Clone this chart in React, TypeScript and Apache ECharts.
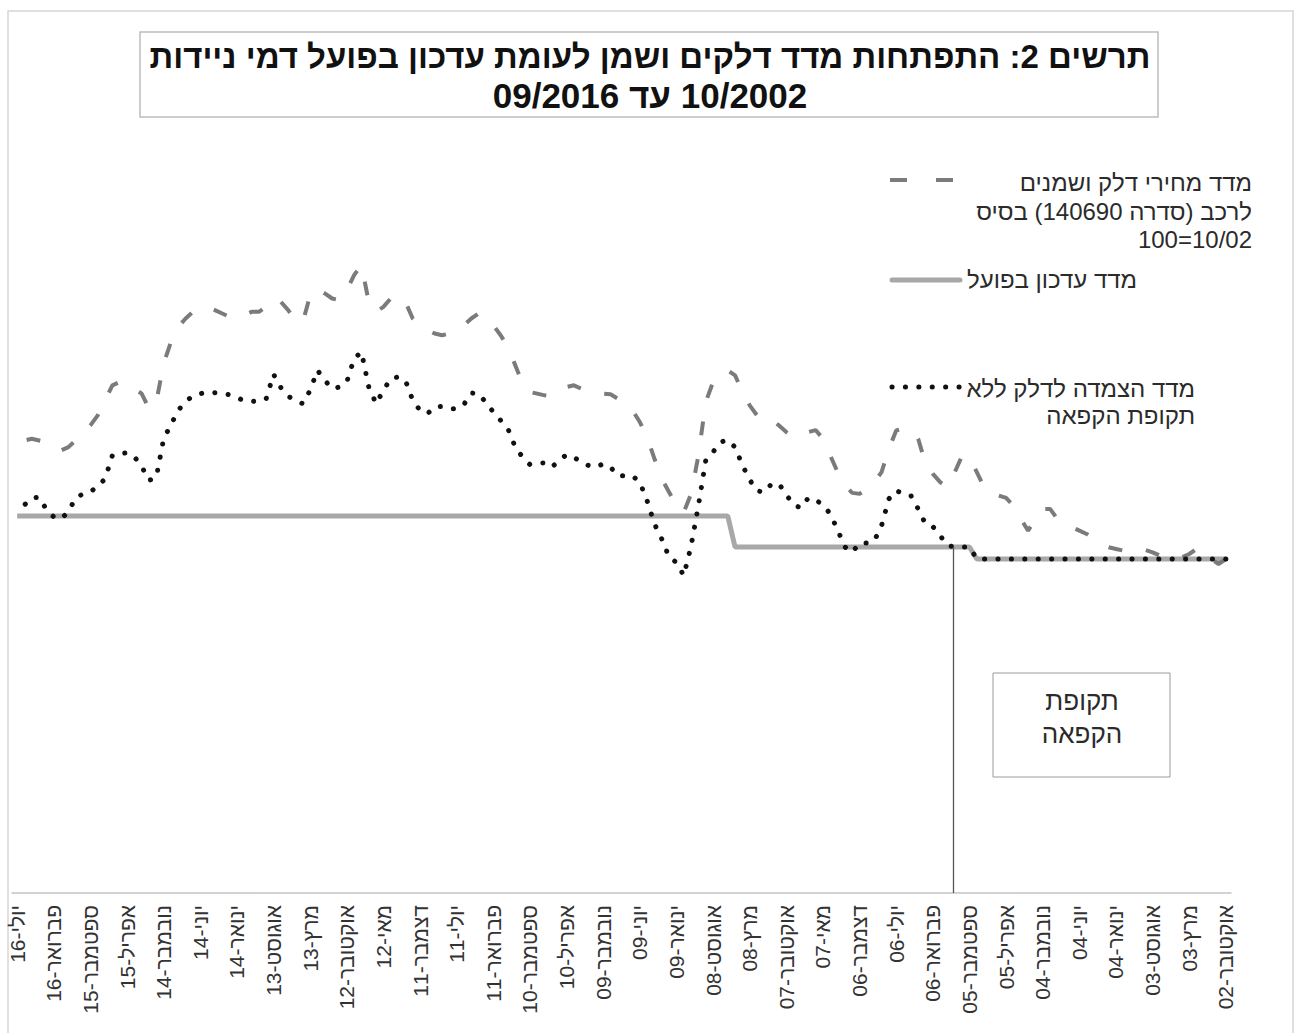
import React, { useEffect, useRef } from "react";
import * as echarts from "echarts";

// Month index 0 = 10/2002 ... 165 = 07/2016 (axis drawn right-to-left)
const tickIndex = [0, 5, 10, 15, 20, 25, 30, 35, 40, 45, 50, 55, 60, 65, 70, 75, 80, 85, 90, 95, 100, 105, 110, 115, 120, 125, 130, 135, 140, 145, 150, 155, 160, 165];
const tickLabels = [
  "אוקטובר-02", "מרץ-03", "אוגוסט-03", "ינואר-04", "יוני-04", "נובמבר-04", "אפריל-05", "ספטמבר-05",
  "פברואר-06", "יולי-06", "דצמבר-06", "מאי-07", "אוקטובר-07", "מרץ-08", "אוגוסט-08", "ינואר-09",
  "יוני-09", "נובמבר-09", "אפריל-10", "ספטמבר-10", "פברואר-11", "יולי-11", "דצמבר-11", "מאי-12",
  "אוקטובר-12", "מרץ-13", "אוגוסט-13", "ינואר-14", "יוני-14", "נובמבר-14", "אפריל-15", "ספטמבר-15",
  "פברואר-16", "יולי-16",
];

// מדד מחירי דלק ושמנים לרכב
const fuelIndex = [
  100, 98.5, 100, 102, 103, 101.5, 100.5, 100.3, 100.5, 101,
  102, 102.7, 102.3, 102, 102.5, 103, 103.5, 104.5, 106, 107.5,
  108.5, 109.5, 110.5, 112, 115, 115, 112, 108.5, 112, 116,
  118.3, 119, 119.5, 121.5, 126, 130.5, 131, 126, 121.5, 123,
  125.5, 128.5, 136, 138.9, 139, 138.5, 133, 126, 123, 121,
  119.5, 119.8, 122, 126, 131, 136, 138.6, 138, 137, 136.5,
  138, 140, 141.5, 141, 143, 146, 150, 155, 156.5, 155,
  153, 147, 131, 119.5, 114, 116, 120, 124, 130, 136.5,
  141, 144.5, 146, 148, 149.3, 149.5, 150, 150.5, 151, 152,
  151.5, 150, 148.8, 149, 149.5, 150, 152.5, 158, 163.5, 167,
  170, 172.5, 173.5, 172, 170, 168.5, 167.5, 167, 167.5, 168.5,
  169.5, 172, 177, 179, 178, 175.5, 174, 177, 188, 185,
  180.5, 177.5, 178, 179.5, 181, 179, 171, 171.5, 174.5, 177,
  178, 175.5, 174, 174, 173, 172.3, 172.5, 173.5, 174.5, 175.4,
  175, 174, 172, 169.5, 165, 158.5, 147, 145, 149.5, 151,
  152.5, 153, 152, 147.5, 143, 140, 137.5, 135.5, 133.5, 132.5,
  133.5, 135, 135.5, 136, 135.5, 132.5,
];

// מדד עדכון בפועל
const actualUpdate = [
  100, 100, 100, 100, 100, 100, 100, 100, 100, 100,
  100, 100, 100, 100, 100, 100, 100, 100, 100, 100,
  100, 100, 100, 100, 100, 100, 100, 100, 100, 100,
  100, 100, 100, 100, 100, 103.6, 103.6, 103.6, 103.6, 103.6,
  103.6, 103.6, 103.6, 103.6, 103.6, 103.6, 103.6, 103.6, 103.6, 103.6,
  103.6, 103.6, 103.6, 103.6, 103.6, 103.6, 103.6, 103.6, 103.6, 103.6,
  103.6, 103.6, 103.6, 103.6, 103.6, 103.6, 103.6, 103.6, 112.9, 112.9,
  112.9, 112.9, 112.9, 112.9, 112.9, 112.9, 112.9, 112.9, 112.9, 112.9,
  112.9, 112.9, 112.9, 112.9, 112.9, 112.9, 112.9, 112.9, 112.9, 112.9,
  112.9, 112.9, 112.9, 112.9, 112.9, 112.9, 112.9, 112.9, 112.9, 112.9,
  112.9, 112.9, 112.9, 112.9, 112.9, 112.9, 112.9, 112.9, 112.9, 112.9,
  112.9, 112.9, 112.9, 112.9, 112.9, 112.9, 112.9, 112.9, 112.9, 112.9,
  112.9, 112.9, 112.9, 112.9, 112.9, 112.9, 112.9, 112.9, 112.9, 112.9,
  112.9, 112.9, 112.9, 112.9, 112.9, 112.9, 112.9, 112.9, 112.9, 112.9,
  112.9, 112.9, 112.9, 112.9, 112.9, 112.9, 112.9, 112.9, 112.9, 112.9,
  112.9, 112.9, 112.9, 112.9, 112.9, 112.9, 112.9, 112.9, 112.9, 112.9,
  112.9, 112.9, 112.9, 112.9, 112.9, 112.9,
];

// מדד הצמדה לדלק ללא תקופת הקפאה
const linkedNoFreeze = [
  100, 100, 100, 100, 100, 100, 100, 100, 100, 100,
  100, 100, 100, 100, 100, 100, 100, 100, 100, 100,
  100, 100, 100, 100, 100, 100, 100, 100, 100, 100,
  100, 100, 100, 100, 100, 103.6, 103.6, 103.6, 104, 107,
  109.7, 110.5, 115, 119, 119.5, 120.5, 118, 110, 105.4, 104.8,
  104.8, 102, 103.6, 108.7, 113.5, 116.2, 117.7, 118.3, 115.3, 116.2,
  119.2, 122.5, 122.5, 120, 120.4, 123.7, 128.1, 133.5, 135.6, 135,
  132, 129.5, 116, 103.9, 95, 99, 100.5, 106, 110.5, 117.4,
  123, 124.9, 124.9, 124.9, 127.5, 128.5, 127.5, 128, 129, 130.5,
  131.2, 129.6, 127.5, 128.8, 128.7, 128.3, 130.5, 133.5, 139, 141.5,
  144, 146.8, 149.5, 149.7, 146.3, 145, 145, 145.7, 145.5, 143.5,
  144.5, 147.5, 153.5, 154.5, 154, 150.5, 146.5, 151.5, 162, 160,
  153, 151.5, 151, 153.5, 156.5, 150.5, 146.5, 147.5, 148.7, 151.3,
  155.3, 148, 147.2, 147.2, 147.4, 148.3, 149.2, 149.5, 149.8, 150,
  149.5, 148.8, 147.2, 144.5, 140.2, 136, 124.5, 123.5, 127.7, 130.6,
  131.8, 131.5, 131, 124, 121.8, 120.1, 119.5, 118.3, 114.2, 112,
  112.6, 114.8, 118.5, 118.3, 116.2, 114.1,
];

const freezeEndIndex = 37.25;
const freezeTopValue = 103.6;

const FONT = "'Liberation Sans', Arial, 'DejaVu Sans', sans-serif";
const rtl = (s: string) => "\u202B" + s + "\u202C";

export default function App() {
  const ref = useRef<HTMLDivElement>(null);
  useEffect(() => {
    if (!ref.current) return;
    const chart = echarts.init(ref.current, null, { renderer: "svg" });
    const pairs = (arr: number[]) => arr.map((v, i) => [i, v]);
    const txt = (text: string, x: number, y: number, size: number, align: string, bold = false, fill = "#2b2b2b") => ({
      type: "text",
      x,
      y,
      silent: true,
      style: {
        text,
        fontFamily: FONT,
        fontSize: size,
        fontWeight: bold ? "bold" : "normal",
        fill,
        align,
        verticalAlign: "middle",
      },
    });
    chart.setOption({
      animation: false,
      backgroundColor: "#ffffff",
      grid: { left: 12, right: 69, top: 58, bottom: 140 },
      xAxis: {
        type: "value",
        inverse: true,
        min: -0.7,
        max: 165.7,
        splitLine: { show: false },
        axisTick: { show: false },
        axisLine: { show: true, onZero: false, lineStyle: { color: "#c4c4c4", width: 1.5 } },
        axisLabel: {
          customValues: tickIndex,
          rotate: 90,
          margin: 12,
          fontSize: 21,
          fontFamily: FONT,
          color: "#333",
          formatter: (v: number) => {
            const k = tickIndex.indexOf(Math.round(v));
            return k >= 0 ? rtl(tickLabels[k]) : "";
          },
        },
      },
      yAxis: { type: "value", min: 0, max: 250, show: false, splitLine: { show: false } },
      series: [
        {
          name: "מדד עדכון בפועל",
          type: "line",
          data: pairs(actualUpdate),
          showSymbol: false,
          lineStyle: { color: "#a8a8a8", width: 5 },
          z: 2,
          markLine: {
            silent: true,
            symbol: "none",
            label: { show: false },
            lineStyle: { color: "#555", width: 1.3, type: "solid" },
            data: [[{ coord: [freezeEndIndex, freezeTopValue] }, { coord: [freezeEndIndex, 0] }]],
          },
        },
        {
          name: "מדד מחירי דלק ושמנים",
          type: "line",
          data: pairs(fuelIndex),
          showSymbol: false,
          lineStyle: { color: "#7b7b7b", width: 4, type: [14, 24] },
          z: 3,
        },
        {
          name: "מדד הצמדה לדלק ללא תקופת הקפאה",
          type: "line",
          data: pairs(linkedNoFreeze),
          showSymbol: false,
          lineStyle: { color: "#111", width: 5, type: [0.1, 13.3], cap: "round" },
          z: 4,
        },
      ],
      graphic: [
        { type: "rect", silent: true, shape: { x: 8, y: 11, width: 1285, height: 1030 }, style: { fill: "none", stroke: "#d6d6d6", lineWidth: 1.5 } },
        { type: "rect", silent: true, shape: { x: 140, y: 32, width: 1018, height: 85 }, style: { fill: "none", stroke: "#bdbdbd", lineWidth: 1.5 } },
        txt(rtl("תרשים 2: התפתחות מדד דלקים ושמן לעומת עדכון בפועל דמי ניידות"), 650, 56, 33, "center", true, "#111"),
        txt(rtl("10/2002 עד 09/2016"), 650, 95, 35, "center", true, "#111"),
        // legend
        { type: "line", silent: true, shape: { x1: 890, y1: 180, x2: 956, y2: 180 }, style: { stroke: "#7b7b7b", lineWidth: 4, lineDash: [17, 29] } },
        txt(rtl("מדד מחירי דלק ושמנים"), 1252, 182, 24, "right"),
        txt(rtl("לרכב (סדרה 140690) בסיס"), 1252, 211, 24, "right"),
        txt("100=10/02", 1252, 239, 24, "right"),
        { type: "line", silent: true, shape: { x1: 892, y1: 280, x2: 960, y2: 280 }, style: { stroke: "#a8a8a8", lineWidth: 5, lineCap: "round" } },
        txt(rtl("מדד עדכון בפועל"), 1137, 279, 24, "right"),
        { type: "line", silent: true, shape: { x1: 892, y1: 387, x2: 962, y2: 387 }, style: { stroke: "#111", lineWidth: 5, lineCap: "round", lineDash: [0.1, 13.3] } },
        txt(rtl("מדד הצמדה לדלק ללא"), 1195, 388, 24, "right"),
        txt(rtl("תקופת הקפאה"), 1195, 415, 24, "right"),
        // freeze period box
        { type: "rect", silent: true, shape: { x: 993, y: 673, width: 177, height: 104 }, style: { fill: "#fff", stroke: "#9a9a9a", lineWidth: 1 } },
        txt(rtl("תקופת"), 1082, 701, 26, "center"),
        txt(rtl("הקפאה"), 1082, 734, 26, "center"),
      ],
    });
    return () => chart.dispose();
  }, []);
  return <div ref={ref} style={{ position: "fixed", left: 0, top: 0, width: 1300, height: 1033 }} />;
}
